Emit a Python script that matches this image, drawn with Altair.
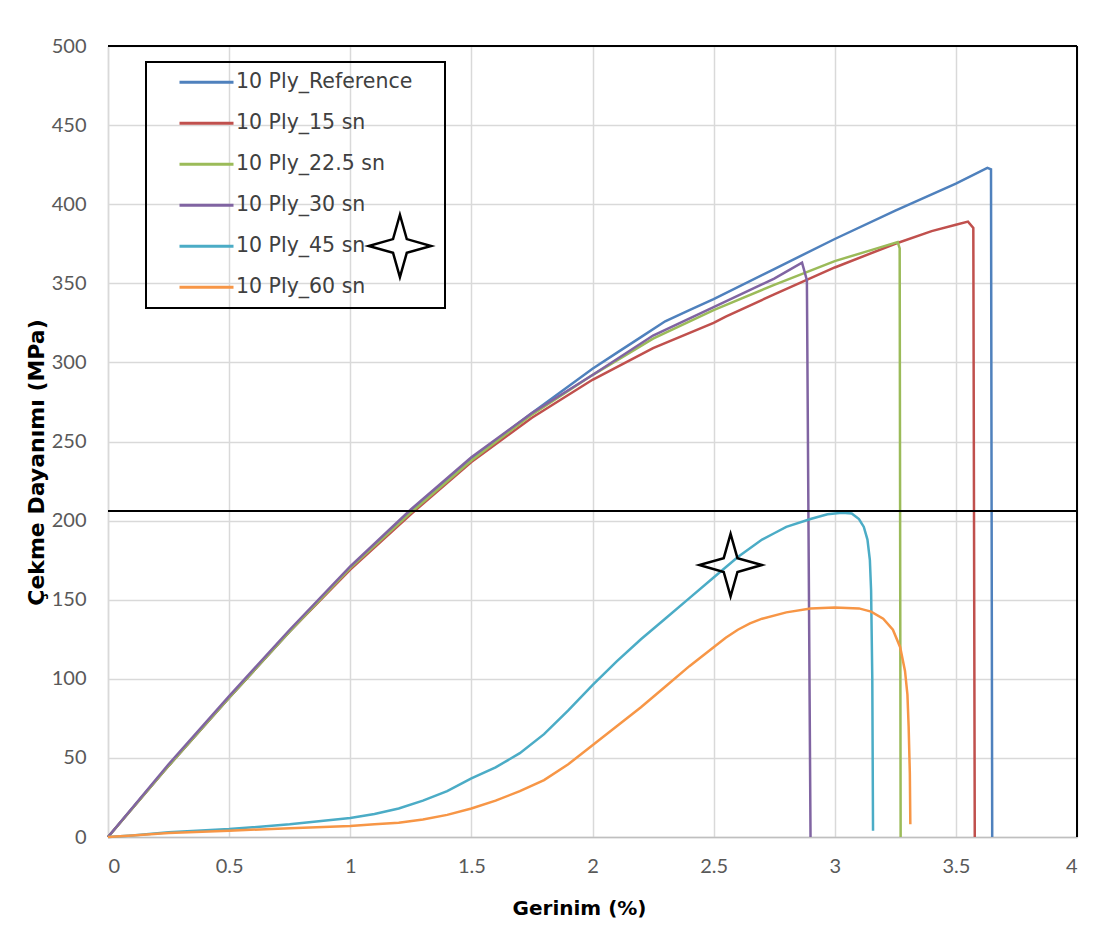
import altair as alt
import pandas as pd

# ---------------- data ----------------
series = ["10 Ply_Reference", "10 Ply_15 sn", "10 Ply_22.5 sn",
          "10 Ply_30 sn", "10 Ply_45 sn", "10 Ply_60 sn"]
colors = ["#4F81BD", "#C0504D", "#9BBB59", "#8064A2", "#4BACC6", "#F79646"]

ref_x = [0, 0.25, 0.5, 0.75, 1.0, 1.25, 1.5, 1.75, 2.0, 2.1, 2.2, 2.3, 2.4, 2.5, 2.75, 3.0, 3.25, 3.5, 3.63, 3.645, 3.65]
ref_y = [0, 45, 88, 130, 170, 206, 239, 268, 296, 306, 316, 326, 333, 340, 359, 378, 396, 413, 423, 422, 0]

s15_x = [0, 0.25, 0.5, 0.75, 1.0, 1.25, 1.5, 1.75, 2.0, 2.25, 2.5, 2.55, 2.75, 3.0, 3.25, 3.4, 3.5, 3.55, 3.572, 3.578]
s15_y = [0, 45, 88, 130, 169, 204, 237, 265, 289, 309, 325, 329, 343, 360, 375, 383, 387, 389, 385, 0]

s225_x = [0, 0.25, 0.5, 0.75, 1.0, 1.25, 1.5, 1.75, 2.0, 2.25, 2.5, 2.75, 3.0, 3.15, 3.26, 3.268, 3.272]
s225_y = [0, 45, 88, 130, 170, 205, 238, 267, 292, 315, 333, 349, 364, 371, 376, 372, 0]

s30_x = [0, 0.25, 0.5, 0.75, 1.0, 1.25, 1.5, 1.75, 2.0, 2.25, 2.5, 2.75, 2.865, 2.885, 2.9]
s30_y = [0, 46, 89, 131, 171, 207, 240, 268, 292, 317, 335, 353, 363, 352, 0]

s45_x = [0, 0.1, 0.25, 0.5, 0.75, 1.0, 1.1, 1.2, 1.3, 1.4, 1.5, 1.6, 1.7, 1.8, 1.9, 2.0, 2.1, 2.2,
         2.3, 2.4, 2.5, 2.6, 2.7, 2.75, 2.8, 2.9, 2.97, 3.03, 3.07, 3.10, 3.12, 3.135, 3.145,
         3.15, 3.155, 3.158]
s45_y = [0, 1, 3, 5, 8, 12, 14.5, 18, 23, 29, 37, 44, 53, 65, 80, 96, 111, 125,
         138, 151, 164, 177, 188, 192, 196, 201, 204, 205, 204.5, 201, 196, 188, 175,
         156, 100, 4]

s60_x = [0, 0.1, 0.25, 0.5, 0.75, 1.0, 1.1, 1.2, 1.3, 1.4, 1.5, 1.6, 1.7, 1.8, 1.9, 2.0, 2.1, 2.2,
         2.3, 2.4, 2.5, 2.55, 2.6, 2.65, 2.7, 2.8, 2.9, 3.0, 3.1, 3.15, 3.2, 3.24, 3.27, 3.29,
         3.30, 3.305, 3.31, 3.312]
s60_y = [0, 1, 2.5, 4, 5.5, 7, 8, 9, 11, 14, 18, 23, 29, 36, 46, 58, 70, 82,
         95, 108, 120, 126, 131, 135, 138, 142, 144.5, 145, 144.5, 142.5, 138, 131, 120, 105,
         90, 70, 40, 8]

all_x = [ref_x, s15_x, s225_x, s30_x, s45_x, s60_x]
all_y = [ref_y, s15_y, s225_y, s30_y, s45_y, s60_y]

hline_y = [206]
star_x = [1.205, 2.570]
star_y = [373.6, 171.9]

x_ticks = [0, 0.5, 1, 1.5, 2, 2.5, 3, 3.5, 4]
y_ticks = [0, 50, 100, 150, 200, 250, 300, 350, 400, 450, 500]

# ---------------- tables ----------------
rows = []
for name, xs, ys in zip(series, all_x, all_y):
    for i, (a, b) in enumerate(zip(xs, ys)):
        rows.append({"series": name, "strain": a, "stress": b, "idx": i})
df = pd.DataFrame(rows)

x_scale = alt.Scale(domain=[0, 4], nice=False)
y_scale = alt.Scale(domain=[0, 500], nice=False)

FONT = "Lato"
TFONT = "DejaVu Sans"
LFONT = "DejaVu Sans"

x_axis = alt.Axis(title="Gerinim (%)", values=x_ticks, format="~g", grid=True,
                  gridColor="#d9d9d9", gridWidth=1.5, domainColor="#bfbfbf", domainWidth=1.5,
                  ticks=False, tickSize=0, labelFont=FONT, labelFontSize=20, labelColor="#595959",
                  labelPadding=19, titleFont=TFONT, titleFontSize=20, titleFontWeight="bold",
                  titleColor="#000000", titlePadding=22, titleX=471, titleAlign="center")
y_axis = alt.Axis(title="Çekme Dayanımı (MPa)", values=y_ticks, grid=True,
                  gridColor="#d9d9d9", gridWidth=1.5, domainColor="#d9d9d9", domainWidth=1.5,
                  ticks=False, tickSize=0, labelFont=FONT, labelFontSize=20, labelColor="#595959",
                  labelPadding=22, titleFont=TFONT, titleFontSize=22, titleFontWeight="bold",
                  titleColor="#000000", titlePadding=3, titleY=416)

# trailing no-break spaces (kept by a zero-width space) widen the legend box on the right
PAD = "\u00a0" * 5 + "\u200b"
legend = alt.Legend(title=None, orient="none", legendX=38, legendY=16,
                    symbolType="stroke", symbolSize=2916, symbolStrokeWidth=3,
                    symbolOffset=32, labelOffset=1, padding=0, rowPadding=0, clipHeight=40.5,
                    labelFont=LFONT, labelFontSize=20.5, labelColor="#404040", labelLimit=400,
                    labelExpr="datum.label + '" + PAD + "'",
                    strokeColor="#000000")

lines = alt.Chart(df).mark_line(strokeWidth=2.5).encode(
    x=alt.X("strain:Q", scale=x_scale, axis=x_axis),
    y=alt.Y("stress:Q", scale=y_scale, axis=y_axis),
    color=alt.Color("series:N", scale=alt.Scale(domain=series, range=colors), legend=legend,
                    sort=series),
    order=alt.Order("idx:Q"),
)

hline = alt.Chart(pd.DataFrame({"y": hline_y})).mark_rule(color="black", strokeWidth=2).encode(
    y=alt.Y("y:Q", scale=y_scale),
    x=alt.value(0), x2=alt.value(969),
)

frame_top = alt.Chart(pd.DataFrame({"y": [500]})).mark_rule(color="black", strokeWidth=2).encode(
    y=alt.Y("y:Q", scale=y_scale), x=alt.value(0), x2=alt.value(969))
frame_right = alt.Chart(pd.DataFrame({"x": [4]})).mark_rule(color="black", strokeWidth=2).encode(
    x=alt.X("x:Q", scale=x_scale), y=alt.value(0), y2=alt.value(791))

STAR = "M0,-1 L0.22,-0.22 L1,0 L0.22,0.22 L0,1 L-0.22,0.22 L-1,0 L-0.22,-0.22 Z"
stars = alt.Chart(pd.DataFrame({"x": star_x, "y": star_y})).mark_point(
    shape=STAR, size=3900, filled=False, color="black", strokeWidth=2.5, opacity=1
).encode(x=alt.X("x:Q", scale=x_scale), y=alt.Y("y:Q", scale=y_scale))

chart = alt.layer(lines, hline, frame_top, frame_right, stars).properties(
    width=969, height=791, autosize="none",
    padding={"left": 100, "top": 38, "right": 16, "bottom": 90},
).configure_view(stroke=None).configure(background="white").configure_legend(strokeWidth=2)

chart.save("out.html", embed_options={"renderer": "svg", "actions": False})
